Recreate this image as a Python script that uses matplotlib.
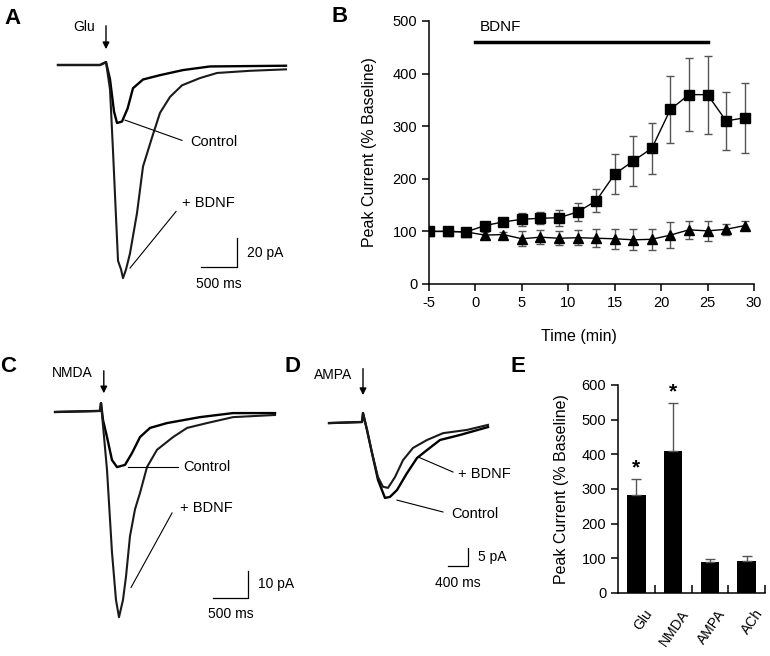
import matplotlib
matplotlib.use("Agg")
import matplotlib.pyplot as plt
import numpy as np

plt.rcParams.update({"font.family": ["Liberation Sans", "DejaVu Sans"],
                     "font.size": 10, "axes.linewidth": 1.1,
                     "axes.unicode_minus": False})
W, H = 770, 656
GREY = "#555555"

# ---- panel A: Glu-evoked currents (ms, pA relative to baseline) ----------
a_ctrl_t = [-667, -83, 0, 56, 111, 153, 222, 300, 375, 514, 750, 1070, 1445, 2500]
a_ctrl_i = [0, 0, 2, -10, -32, -40, -39, -30, -16, -10, -7, -3.5, -1, -0.5]
a_bdnf_t = [-667, -83, 0, 56, 97, 139, 167, 209, 236, 278, 333, 431, 514, 639,
            750, 889, 1056, 1306, 1542, 2000, 2500]
a_bdnf_i = [0, 0, 2, -17, -59, -105, -135, -141, -147, -141, -130, -102, -70, -50,
            -33, -22, -14, -9, -5.5, -4, -3]

# ---- panel C: NMDA-evoked currents --------------------------------------
c_ctrl_t = [-657, -14, 0, 29, 86, 157, 229, 343, 443, 557, 700, 943, 1414, 1886, 2486]
c_ctrl_i = [0, 0.4, 3.3, -3, -9.3, -17.8, -20.4, -19.6, -15.2, -9.3, -5.9, -4.1, -1.9, -0.4, -0.4]
c_bdnf_t = [-657, -14, 0, 86, 157, 214, 257, 314, 357, 414, 486, 557, 657, 800,
            1029, 1229, 1514, 1886, 2486]
c_bdnf_i = [0, 0.4, 3.3, -21.5, -52, -69.6, -76, -69.6, -61, -46, -36, -30, -20.4, -14,
            -9.3, -5.9, -4.1, -1.9, -1.1]

# ---- panel D: AMPA-evoked currents --------------------------------------
d_ctrl_t = [-680, -20, 0, 80, 180, 300, 440, 540, 680, 880, 1080, 1280, 1540, 1940, 2500]
d_ctrl_i = [-0.3, 0, 2.5, -2.2, -8.6, -16.1, -21.1, -20.8, -18.9, -14.2, -10, -7.8, -5, -3.6, -1.4]
d_bdnf_t = [-680, -20, 0, 80, 180, 300, 400, 500, 640, 800, 1000, 1280, 1600, 2080, 2500]
d_bdnf_i = [-0.3, 0, 2.5, -2.2, -8.6, -15.3, -18, -18.3, -15.3, -10.6, -7.2, -5, -3.1, -2.2, -0.8]

# ---- panel B: time course ------------------------------------------------
time_min = [-5, -3, -1, 1, 3, 5, 7, 9, 11, 13, 15, 17, 19, 21, 23, 25, 27, 29]
bdnf_glu = [100, 100, 99, 111, 118, 123, 125, 126, 137, 158, 209, 234, 258, 332, 360, 360, 310, 316]
bdnf_err = [0, 0, 3, 7, 7, 12, 11, 15, 17, 22, 38, 47, 48, 63, 70, 74, 55, 67]
ctrl_glu = [100, 100, 99, 93, 94, 86, 89, 87, 88, 87, 86, 84, 85, 93, 103, 101, 104, 111]
ctrl_err = [0, 0, 3, 5, 5, 14, 13, 13, 14, 17, 19, 20, 20, 25, 17, 19, 10, 9]
bdnf_on, bdnf_off = 0, 25

# ---- panel E: summary ----------------------------------------------------
agonists = ["Glu", "NMDA", "AMPA", "ACh"]
peak_pct = [282, 409, 89, 92]
peak_err = [48, 139, 8, 15]
signif = [True, True, False, False]

fig = plt.figure(figsize=(7.7, 6.56), dpi=100)


def px_axes(left, top, right, bottom):
    return fig.add_axes([left / W, 1 - bottom / H, (right - left) / W, (bottom - top) / H])


def trace_axes(box, x0, ms_px, y0, pa_px):
    ax = px_axes(*box)
    l, t, r, b = box
    ax.set_xlim((l - x0) * ms_px, (r - x0) * ms_px)
    ax.set_ylim(-(b - y0) * pa_px, -(t - y0) * pa_px)
    ax.axis("off")
    return ax


def scale_bar(ax, x, y, dx, dy, xlab, ylab):
    ax.plot([x, x + dx, x + dx], [y, y, y + dy], color="k", lw=0.9)
    ax.annotate(ylab, (x + dx, y + dy / 2), xytext=(7, 0), textcoords="offset points",
                va="center", fontsize=10)
    ax.annotate(xlab, (x + dx / 2, y), xytext=(0, -7), textcoords="offset points",
                ha="center", va="top", fontsize=10)


def stim(ax, x, y0, y1, ytxt, name):
    ax.annotate("", (x, y1), xytext=(x, y0),
                arrowprops=dict(arrowstyle="-|>", color="k", lw=1, mutation_scale=10))
    ax.annotate(name, (x, ytxt), xytext=(-8, 0),
                textcoords="offset points", ha="right", va="center", fontsize=10)


def traces(ax, ct, ci, bt, bi):
    ax.plot(ct, ci, color="k", lw=1.7)
    ax.plot(bt, bi, color="#1a1a1a", lw=1.5)


# ===== A ================================================================
ax = trace_axes((40, 0, 300, 310), 106, 500 / 36, 65, 20 / 29)
traces(ax, a_ctrl_t, a_ctrl_i, a_bdnf_t, a_bdnf_i)
stim(ax, 0, 29, 9, 26, "Glu")
ax.plot([264, 1056], [-38, -52], color="k", lw=0.8)
ax.text(1168, -53, "Control", va="center", fontsize=10.5)
ax.plot([973, 334], [-101, -140], color="k", lw=0.8)
ax.text(1056, -95, "+ BDNF", va="center", fontsize=10.5)
scale_bar(ax, 1320, -139.4, 500, 20, "500 ms", "20 pA")

# ===== C ================================================================
ax = trace_axes((40, 360, 300, 640), 101, 500 / 35, 412, 10 / 27)
traces(ax, c_ctrl_t, c_ctrl_i, c_bdnf_t, c_bdnf_i)
stim(ax, 40, 16.3, 5.9, 14.4, "NMDA")
ax.plot([386, 1100], [-20.4, -20.4], color="k", lw=0.8)
ax.text(1172, -20.4, "Control", va="center", fontsize=10.5)
ax.plot([1015, 429], [-37.4, -65], color="k", lw=0.8)
ax.text(1129, -35.5, "+ BDNF", va="center", fontsize=10.5)
scale_bar(ax, 1600, -68.8, 500, 10, "500 ms", "10 pA")

# ===== D ================================================================
ax = trace_axes((310, 360, 520, 640), 363, 20, 422, 5 / 18)
traces(ax, d_ctrl_t, d_ctrl_i, d_bdnf_t, d_bdnf_i)
stim(ax, 0, 15.6, 6.7, 13.1, "AMPA")
ax.plot([1100, 1800], [-9.7, -13.9], color="k", lw=0.8)
ax.text(1900, -14.5, "+ BDNF", va="center", fontsize=10.5)
ax.plot([680, 1600], [-21.7, -25], color="k", lw=0.8)
ax.text(1760, -25.6, "Control", va="center", fontsize=10.5)
scale_bar(ax, 1700, -40, 400, 5, "400 ms", "5 pA")

# ===== B ================================================================
ax = px_axes(429, 21, 754, 284)
ax.errorbar(time_min, ctrl_glu, yerr=ctrl_err, color="k", ecolor=GREY, elinewidth=1,
            capsize=3, marker="^", ms=6.5, lw=1)
ax.errorbar(time_min, bdnf_glu, yerr=bdnf_err, color="k", ecolor=GREY, elinewidth=1,
            capsize=3, marker="s", ms=6.5, lw=1)
ax.plot([bdnf_on, bdnf_off], [461, 461], color="k", lw=2.5, clip_on=False)
ax.text(bdnf_on + 0.5, 488, "BDNF", va="center", fontsize=11)
ax.set_xlim(-5, 30)
ax.set_ylim(0, 500)
ax.set_xticks(range(-5, 31, 5))
ax.set_yticks(range(0, 501, 100))
for s in ("top", "right"):
    ax.spines[s].set_visible(False)
ax.tick_params(direction="out", length=5, width=1.1, labelsize=10.5)
ax.set_xlabel("Time (min)", fontsize=11.5)
ax.set_ylabel("Peak Current (% Baseline)", fontsize=11.5)
ax.xaxis.set_label_coords(0.46, -0.17)
ax.yaxis.set_label_coords(-0.16, 0.5)

# ===== E ================================================================
ax = px_axes(618, 385, 765, 593)
x = np.arange(len(agonists))
ax.bar(x, peak_pct, width=0.5, color="k")
ax.errorbar(x, peak_pct, yerr=[np.zeros(len(x)), peak_err], fmt="none",
            ecolor=GREY, elinewidth=1, capsize=3.5)
for xi, v, e, s in zip(x, peak_pct, peak_err, signif):
    if s:
        ax.annotate("*", (xi, v + e), xytext=(0, 1), textcoords="offset points",
                    ha="center", va="bottom", fontsize=15, fontweight="bold")
    ax.annotate(agonists[xi], (xi, 0), xytext=(9.5, -13), textcoords="offset points",
                rotation=55, rotation_mode="anchor", ha="right", va="center", fontsize=10)
ax.set_xlim(-0.5, 3.5)
ax.set_ylim(0, 600)
ax.set_xticks(x + 0.5)
ax.set_xticklabels([])
ax.set_yticks(range(0, 601, 100))
for s in ("top", "right"):
    ax.spines[s].set_visible(False)
ax.tick_params(axis="x", direction="in", length=6, width=1.1)
ax.tick_params(axis="y", direction="out", length=5, width=1.1, labelsize=10.5)
ax.set_ylabel("Peak Current (% Baseline)", fontsize=11.5)
ax.yaxis.set_label_coords(-0.33, 0.5)

# ---- panel letters ------------------------------------------------------
for lab, px, py in [("A", 13, 19), ("B", 340, 16), ("C", 8, 366),
                    ("D", 292, 366), ("E", 518, 366)]:
    fig.text(px / W, 1 - py / H, lab, fontsize=16, fontweight="bold",
             ha="center", va="center")

fig.savefig("out.png", dpi=100)
